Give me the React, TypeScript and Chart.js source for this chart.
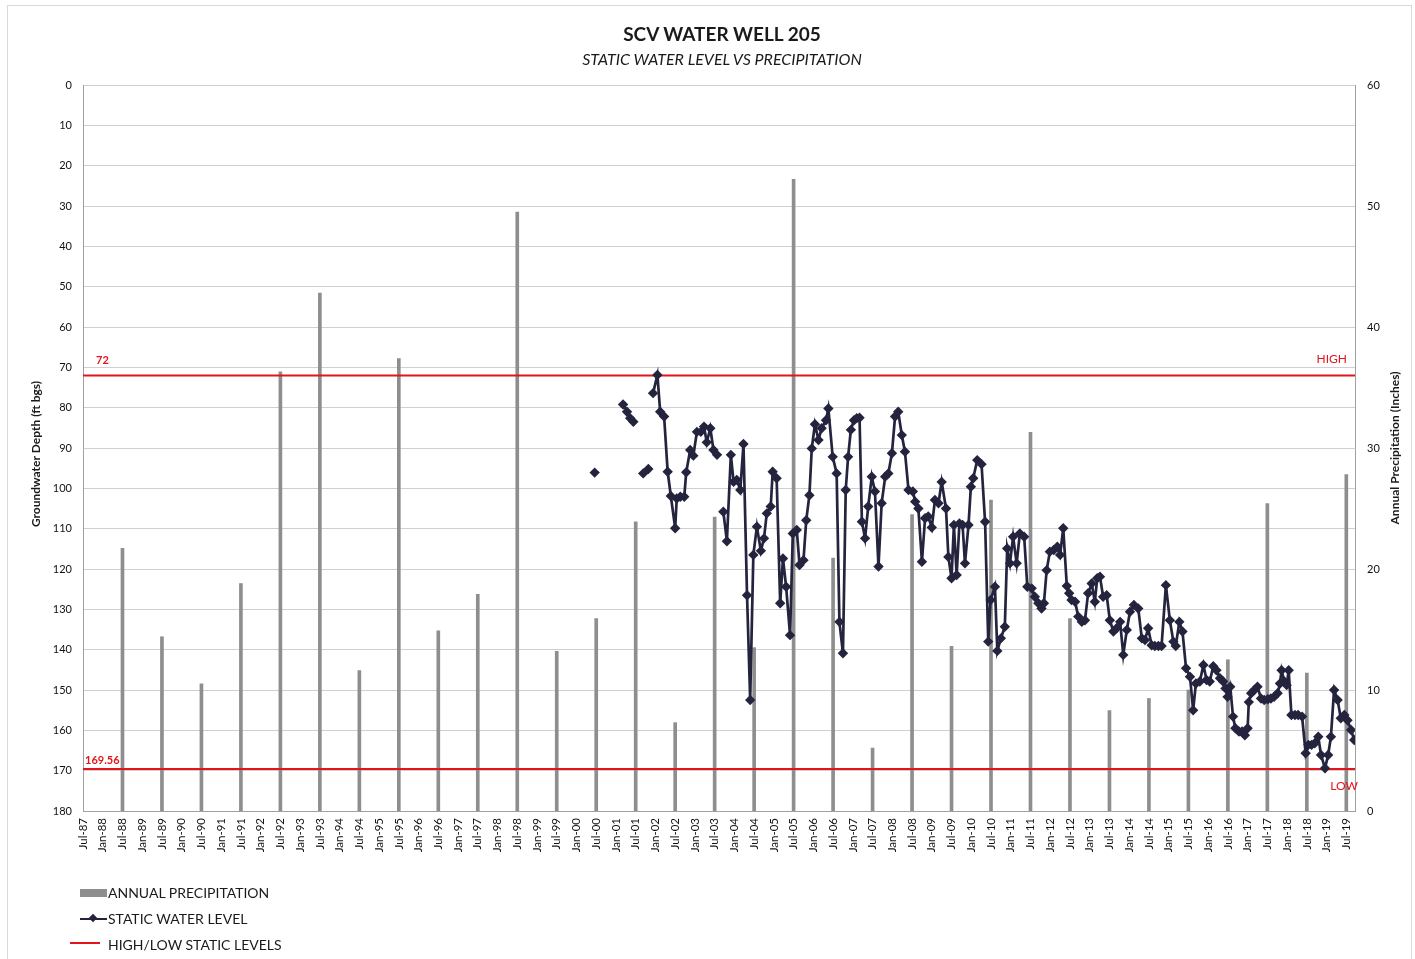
import React, { useEffect, useRef } from "react";
import { Chart, registerables } from "chart.js";

Chart.register(...registerables);

// ---------- DATA ----------
const X_MIN = 1987.5; // Jul-87
const X_MAX = 2019.72;

const xTickLabels = [
  "Jul-87", "Jan-88", "Jul-88", "Jan-89", "Jul-89", "Jan-90", "Jul-90", "Jan-91", "Jul-91",
  "Jan-92", "Jul-92", "Jan-93", "Jul-93", "Jan-94", "Jul-94", "Jan-95", "Jul-95", "Jan-96",
  "Jul-96", "Jan-97", "Jul-97", "Jan-98", "Jul-98", "Jan-99", "Jul-99", "Jan-00", "Jul-00",
  "Jan-01", "Jul-01", "Jan-02", "Jul-02", "Jan-03", "Jul-03", "Jan-04", "Jul-04", "Jan-05",
  "Jul-05", "Jan-06", "Jul-06", "Jan-07", "Jul-07", "Jan-08", "Jul-08", "Jan-09", "Jul-09",
  "Jan-10", "Jul-10", "Jan-11", "Jul-11", "Jan-12", "Jul-12", "Jan-13", "Jul-13", "Jan-14",
  "Jul-14", "Jan-15", "Jul-15", "Jan-16", "Jul-16", "Jan-17", "Jul-17", "Jan-18", "Jul-18",
  "Jan-19", "Jul-19",
];

// Annual precipitation (inches), plotted at July of each year
const precipYears = [
  1988.5, 1989.5, 1990.5, 1991.5, 1992.5, 1993.5, 1994.5, 1995.5, 1996.5, 1997.5, 1998.5,
  1999.5, 2000.5, 2001.5, 2002.5, 2003.5, 2004.5, 2005.5, 2006.5, 2007.5, 2008.5, 2009.5,
  2010.5, 2011.5, 2012.5, 2013.5, 2014.5, 2015.5, 2016.5, 2017.5, 2018.5, 2019.5,
];
const precipInches = [
  21.7, 14.4, 10.5, 18.8, 36.3, 42.8, 11.6, 37.4, 14.9, 17.9, 49.5,
  13.2, 15.9, 23.9, 7.3, 24.3, 13.5, 52.2, 20.9, 5.2, 24.5, 13.6,
  25.7, 31.3, 15.9, 8.3, 9.3, 10.0, 12.5, 25.4, 11.4, 27.8,
];

// Static water level (ft bgs); null = gap in record
const wlYear = [
  2000.46, 2000.8,
  2001.18, 2001.28, 2001.36, 2001.44, 2001.55,
  2001.69, 2001.82, 2001.88,
  2001.94, 2002.05, 2002.12, 2002.22, 2002.31, 2002.39, 2002.5, 2002.54, 2002.63, 2002.73,
  2002.78, 2002.88, 2002.96, 2003.05, 2003.15, 2003.23, 2003.3, 2003.39, 2003.47, 2003.56,
  2003.64,
  2003.72, 2003.81, 2003.91, 2003.98, 2004.06, 2004.15, 2004.23, 2004.32, 2004.4, 2004.48,
  2004.57, 2004.67, 2004.75, 2004.82, 2004.92, 2004.97, 2005.07, 2005.16, 2005.23, 2005.31,
  2005.41, 2005.48, 2005.58, 2005.65, 2005.75, 2005.82, 2005.9, 2005.96, 2006.04, 2006.13,
  2006.21, 2006.32, 2006.38, 2006.49, 2006.59, 2006.66, 2006.75, 2006.82, 2006.88, 2006.95,
  2007.03, 2007.1, 2007.17, 2007.23, 2007.31, 2007.39, 2007.48, 2007.56, 2007.65, 2007.73,
  2007.82, 2007.9, 2007.99, 2008.07, 2008.15, 2008.24, 2008.32, 2008.41, 2008.52, 2008.58,
  2008.66, 2008.75, 2008.83, 2008.91, 2009.0, 2009.08, 2009.17, 2009.25, 2009.36, 2009.42,
  2009.5, 2009.56, 2009.63, 2009.7, 2009.78, 2009.84, 2009.93, 2009.99, 2010.05, 2010.15,
  2010.26, 2010.35, 2010.43, 2010.49, 2010.6, 2010.66, 2010.75, 2010.85, 2010.91, 2010.98,
  2011.06, 2011.15, 2011.23, 2011.34, 2011.42, 2011.53, 2011.61, 2011.7, 2011.78, 2011.84,
  2011.91, 2011.99, 2012.09, 2012.18, 2012.25, 2012.33, 2012.42, 2012.48, 2012.54, 2012.63,
  2012.71, 2012.8, 2012.88, 2012.96, 2013.05, 2013.13, 2013.19, 2013.26, 2013.34, 2013.43,
  2013.51, 2013.6, 2013.68, 2013.77, 2013.85, 2013.94, 2014.02, 2014.12, 2014.23, 2014.32,
  2014.4, 2014.48, 2014.57, 2014.65, 2014.74, 2014.82, 2014.93, 2015.03, 2015.12, 2015.18,
  2015.27, 2015.35, 2015.44, 2015.54, 2015.62, 2015.69, 2015.79, 2015.88, 2015.96, 2016.04,
  2016.13, 2016.21, 2016.3, 2016.38, 2016.44, 2016.49, 2016.56, 2016.63, 2016.69, 2016.78,
  2016.86, 2016.93, 2017.0, 2017.03, 2017.09, 2017.17, 2017.25, 2017.34, 2017.42, 2017.51,
  2017.59, 2017.67, 2017.76, 2017.82, 2017.86, 2017.93, 2017.99, 2018.04, 2018.11, 2018.2,
  2018.28, 2018.38, 2018.47, 2018.54, 2018.62, 2018.7, 2018.79, 2018.86, 2018.96, 2019.04,
  2019.11, 2019.19, 2019.28, 2019.36, 2019.45, 2019.53, 2019.62, 2019.7,
];
const wlDepth = [
  96.1, null,
  79.2, 81.0, 82.6, 83.5, null,
  96.3, 95.2, null,
  76.4, 71.9, 81.0, 82.2, 95.9, 101.9, 109.9, 102.5, 102.1, 102.1,
  96.0, 90.5, 91.9, 86.0, 86.0, 84.7, 88.6, 85.1, 90.5, 91.7,
  null,
  105.8, 113.1, 91.7, 98.4, 97.9, 100.4, 89.0, 126.5, 152.5, 116.5,
  109.5, 115.5, 112.4, 106.2, 104.5, 95.9, 97.5, 128.5, 117.4, 124.4,
  136.4, 111.2, 110.3, 119.0, 117.8, 107.9, 101.7, 90.1, 84.1, 88.0,
  85.1, 83.1, 80.2, 92.2, 96.3, 133.1, 140.9, 100.4, 92.2, 85.5,
  83.1, 82.6, 82.5, 108.3, 112.4, 104.5, 97.1, 100.8, 119.4, 103.7,
  97.1, 96.3, 91.3, 82.2, 81.0, 86.8, 90.9, 100.4, 100.8, 103.3,
  105.0, 118.2, 107.4, 107.0, 109.7, 102.9, 103.7, 98.4, 105.0, 117.0,
  122.3, 109.1, 121.5, 108.7, 109.1, 118.6, 109.1, 99.6, 97.5, 93.0,
  94.0, 108.3, 138.0, 127.7, 124.4, 140.3, 137.2, 134.3, 114.9, 118.6,
  112.0, 118.6, 111.2, 112.0, 124.4, 124.8, 126.9, 128.5, 129.8, 128.5,
  120.3, 115.7, 115.3, 114.5, 116.5, 109.9, 124.2, 126.0, 127.7, 128.1,
  131.8, 133.1, 132.7, 126.0, 123.6, 128.1, 122.3, 121.9, 126.9, 126.5,
  132.7, 135.5, 134.7, 133.1, 141.3, 135.1, 130.6, 128.9, 129.8, 137.2,
  137.6, 134.7, 138.9, 139.1, 139.1, 139.1, 124.0, 132.7, 138.0, 139.1,
  133.1, 135.5, 144.6, 146.7, 155.0, 148.4, 147.9, 143.8, 147.5, 147.9,
  144.1, 145.1, 147.1, 147.9, 149.6, 151.7, 149.2, 156.6, 159.5, 160.3,
  160.3, 161.2, 159.5, 153.0, 150.8, 150.0, 149.2, 152.1, 152.5, 152.3,
  152.1, 151.7, 150.8, 148.4, 145.1, 147.9, 148.8, 145.1, 156.2, 156.2,
  156.2, 156.6, 165.7, 163.6, 163.6, 163.2, 161.6, 166.1, 169.4, 166.1,
  161.6, 150.0, 152.5, 157.0, 156.2, 157.5, 159.9, 162.4,
];

const HIGH_LEVEL = 72;
const LOW_LEVEL = 169.56;

const FONT = "Lato, 'Open Sans', sans-serif";
const RED = "#e3141c";
const NAVY = "#24243f";
const BAR_GRAY = "#8e8e8e";

const annotationPlugin = {
  id: "annotations",
  afterDraw(chart: any) {
    const { ctx, chartArea, scales } = chart;
    const y = scales.y;
    const midY = (chartArea.top + chartArea.bottom) / 2;
    ctx.save();
    // axis titles
    ctx.fillStyle = "#1a1a1a";
    ctx.font = `bold 12px ${FONT}`;
    ctx.textAlign = "center";
    ctx.textBaseline = "middle";
    ctx.save();
    ctx.translate(36, midY + 6);
    ctx.rotate(-Math.PI / 2);
    ctx.fillText("Groundwater Depth (ft bgs)", 0, 0);
    ctx.restore();
    ctx.save();
    ctx.translate(1395, midY);
    ctx.rotate(-Math.PI / 2);
    ctx.fillText("Annual Precipitation (Inches)", 0, 0);
    ctx.restore();

    // high / low labels
    const yHigh = y.getPixelForValue(HIGH_LEVEL);
    const yLow = y.getPixelForValue(LOW_LEVEL);
    ctx.fillStyle = RED;
    ctx.font = `bold 11px ${FONT}`;
    ctx.textAlign = "left";
    ctx.fillText(String(HIGH_LEVEL), chartArea.left + 13, yHigh - 15);
    ctx.fillText(String(LOW_LEVEL), chartArea.left + 2, yLow - 8);
    ctx.font = `12px ${FONT}`;
    ctx.textAlign = "right";
    ctx.fillText("HIGH", chartArea.right - 8, yHigh - 16);
    ctx.textAlign = "center";
    ctx.fillText("LOW", chartArea.right - 11, yLow + 17);
    ctx.restore();
  },
};

export default function App() {
  const canvasRef = useRef<HTMLCanvasElement | null>(null);

  useEffect(() => {
    if (!canvasRef.current) return;
    const wlPoints = wlYear.map((x, i) => ({ x, y: wlDepth[i] }));
    const precipPoints = precipYears.map((x, i) => ({ x, y: precipInches[i] }));

    const chart = new Chart(canvasRef.current, {
      type: "line",
      data: {
        datasets: [
          {
            type: "line",
            label: "STATIC WATER LEVEL",
            data: wlPoints as any,
            yAxisID: "y",
            borderColor: NAVY,
            backgroundColor: NAVY,
            borderWidth: 2.7,
            pointStyle: "rectRot",
            pointRadius: 3.3,
            pointBackgroundColor: NAVY,
            pointBorderColor: NAVY,
            spanGaps: false,
            tension: 0,
            order: 1,
          },
          {
            type: "line",
            label: "HIGH",
            data: [
              { x: X_MIN, y: HIGH_LEVEL },
              { x: X_MAX, y: HIGH_LEVEL },
            ],
            yAxisID: "y",
            borderColor: RED,
            borderWidth: 2,
            pointRadius: 0,
            order: 2,
          },
          {
            type: "line",
            label: "LOW",
            data: [
              { x: X_MIN, y: LOW_LEVEL },
              { x: X_MAX, y: LOW_LEVEL },
            ],
            yAxisID: "y",
            borderColor: RED,
            borderWidth: 2,
            pointRadius: 0,
            order: 2,
          },
          {
            type: "bar",
            label: "ANNUAL PRECIPITATION",
            data: precipPoints as any,
            yAxisID: "y1",
            backgroundColor: BAR_GRAY,
            barThickness: 3,
            grouped: false,
            order: 3,
          } as any,
        ],
      },
      options: {
        animation: false,
        responsive: false,
        maintainAspectRatio: false,
        layout: { padding: { left: 0, right: 0, top: 85, bottom: 88 } },
        plugins: {
          legend: { display: false },
          tooltip: { enabled: false },
          title: { display: false },
        },
        scales: {
          x: {
            type: "linear",
            min: X_MIN,
            max: X_MAX,
            offset: false,
            grid: { display: false, drawTicks: false, offset: false },
            border: { display: true, color: "#a0a0a0" },
            afterBuildTicks: (scale: any) => {
              scale.ticks = xTickLabels.map((_, i) => ({ value: X_MIN + i * 0.5 }));
            },
            afterFit: (scale: any) => {
              scale.height = 60;
            },
            ticks: {
              autoSkip: false,
              minRotation: 90,
              maxRotation: 90,
              padding: 7,
              color: "#111111",
              font: { family: FONT, size: 11.5 },
              callback: (_v: any, i: number) => xTickLabels[i],
            },
          },
          y: {
            type: "linear",
            position: "left",
            reverse: true,
            min: 0,
            max: 180,
            grid: { color: "#cfcfcf", drawTicks: false, lineWidth: 1 },
            border: { display: true, color: "#a0a0a0" },
            afterFit: (scale: any) => {
              scale.width = 83;
            },
            ticks: {
              stepSize: 10,
              padding: 11,
              color: "#111111",
              font: { family: FONT, size: 11 },
            },
          },
          y1: {
            type: "linear",
            position: "right",
            min: 0,
            max: 60,
            grid: { display: false, drawTicks: false },
            border: { display: true, color: "#a0a0a0" },
            afterFit: (scale: any) => {
              scale.width = 60;
            },
            ticks: {
              stepSize: 10,
              padding: 12,
              color: "#111111",
              font: { family: FONT, size: 11 },
            },
          },
        },
      },
      plugins: [annotationPlugin],
    } as any);

    return () => chart.destroy();
  }, []);

  const legendText: React.CSSProperties = {
    position: "absolute",
    left: 108,
    fontFamily: FONT,
    fontSize: 14,
    color: "#1a1a1a",
    lineHeight: "16px",
    whiteSpace: "nowrap",
  };

  return (
    <div
      style={{
        position: "fixed",
        left: 0,
        top: 0,
        width: 1415,
        height: 959,
        background: "#ffffff",
        overflow: "hidden",
      }}
    >
      <div
        style={{
          position: "absolute",
          left: 7,
          top: 5,
          width: 1403,
          height: 1000,
          border: "1px solid #d9d9d9",
        }}
      />
      <canvas
        ref={canvasRef}
        width={1415}
        height={959}
        style={{ position: "absolute", left: 0, top: 0, width: 1415, height: 959 }}
      />
      <div
        style={{
          position: "absolute",
          left: 522,
          width: 400,
          top: 23,
          textAlign: "center",
          fontFamily: FONT,
          fontWeight: 700,
          fontSize: 19,
          lineHeight: "22px",
          color: "#1a1a1a",
        }}
      >
        SCV WATER WELL 205
      </div>
      <div
        style={{
          position: "absolute",
          left: 522,
          width: 400,
          top: 49,
          textAlign: "center",
          fontFamily: FONT,
          fontStyle: "italic",
          fontSize: 16,
          lineHeight: "20px",
          color: "#1a1a1a",
        }}
      >
        STATIC WATER LEVEL VS PRECIPITATION
      </div>

      {/* Legend */}
      <div style={{ position: "absolute", left: 80, top: 889, width: 27, height: 8, background: BAR_GRAY }} />
      <div style={{ ...legendText, top: 885 }}>ANNUAL PRECIPITATION</div>

      <div style={{ position: "absolute", left: 80, top: 918, width: 27, height: 2, background: NAVY }} />
      <div
        style={{
          position: "absolute",
          left: 90,
          top: 915,
          width: 6,
          height: 6,
          background: NAVY,
          transform: "rotate(45deg)",
        }}
      />
      <div style={{ ...legendText, top: 911 }}>STATIC WATER LEVEL</div>

      <div style={{ position: "absolute", left: 70, top: 942, width: 30, height: 2, background: RED }} />
      <div style={{ ...legendText, top: 937 }}>HIGH/LOW STATIC LEVELS</div>
    </div>
  );
}
